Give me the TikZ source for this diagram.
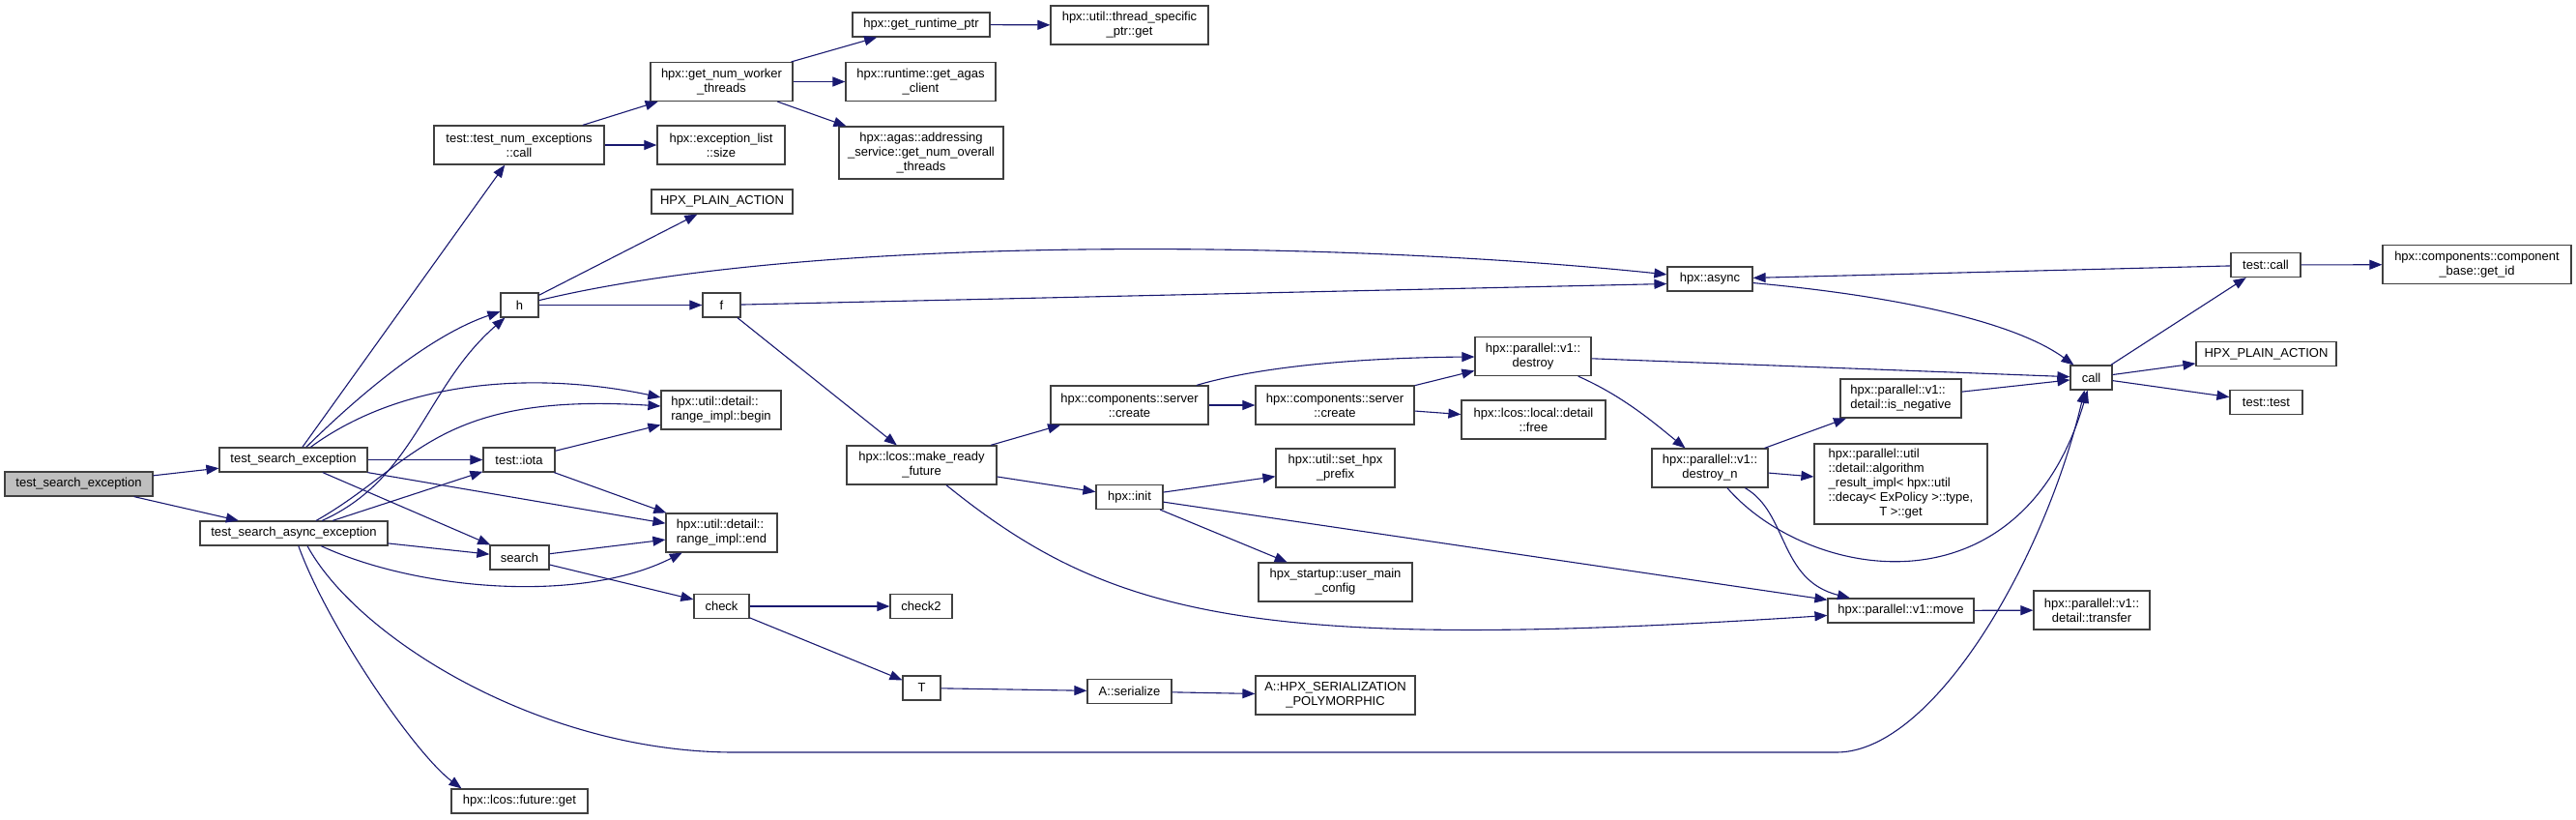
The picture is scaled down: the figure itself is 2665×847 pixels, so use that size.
\documentclass[tikz,border=0pt]{standalone}
\usepackage{fontspec}
\setmainfont{Liberation Sans}
\usepackage{xcolor}
\usetikzlibrary{arrows.meta}
\definecolor{edgeblue}{HTML}{191970}
\definecolor{boxline}{HTML}{404040}
\definecolor{rootgray}{HTML}{BFBFBF}
\tikzset{fn/.style={draw=boxline,line width=1.2pt,fill=white,inner sep=0pt,align=center,font=\fontsize{13}{15}\selectfont},
dep/.style={-{Triangle[length=13pt,width=10pt]},edgeblue,line width=1.1pt}}

\begin{document}
\begin{tikzpicture}[x=1pt,y=-1pt]
\useasboundingbox (0,0) rectangle (2665,847);
% functions
\node[fn,fill=rootgray,minimum width=153pt,minimum height=25pt] (root) at (81.5,500.5) {test\_search\_exception};
\node[fn,minimum width=153pt,minimum height=25pt] (tse) at (303.5,475.5) {test\_search\_exception};
\node[fn,minimum width=194pt,minimum height=25pt] (tsae) at (304,551.5) {test\_search\_async\_exception};
\node[fn,minimum width=176pt,minimum height=40pt] (tnc) at (537,150) {test::test\_num\_exceptions\\::call};
\node[fn,minimum width=132pt,minimum height=40pt] (exls) at (746,150) {hpx::exception\_list\\::size};
\node[fn,minimum width=147pt,minimum height=40pt] (gnwt) at (746.5,84.5) {hpx::get\_num\_worker\\\_threads};
\node[fn,minimum width=142pt,minimum height=25pt] (grp) at (953,25.5) {hpx::get\_runtime\_ptr};
\node[fn,minimum width=163pt,minimum height=40pt] (tsp) at (1168.5,26) {hpx::util::thread\_specific\\\_ptr::get};
\node[fn,minimum width=155pt,minimum height=40pt] (gac) at (952.5,84.5) {hpx::runtime::get\_agas\\\_client};
\node[fn,minimum width=170pt,minimum height=54pt] (addr) at (953,158) {hpx::agas::addressing\\\_service::get\_num\_overall\\\_threads};
\node[fn,minimum width=146pt,minimum height=25pt] (plainA) at (747,208.5) {HPX\_PLAIN\_ACTION};
\node[fn,minimum width=39pt,minimum height=25pt] (h) at (537.5,315.5) {h};
\node[fn,minimum width=39pt,minimum height=25pt] (f) at (746.5,315.5) {f};
\node[fn,align=left,minimum width=124pt,minimum height=40pt] (rbeg) at (746,424) {hpx::util::detail::\\range\_impl::begin};
\node[fn,minimum width=74pt,minimum height=25pt] (iota) at (537,475.5) {test::iota};
\node[fn,align=left,minimum width=115pt,minimum height=40pt] (rend) at (746.5,551) {hpx::util::detail::\\range\_impl::end};
\node[fn,minimum width=61pt,minimum height=25pt] (search) at (537.5,576.5) {search};
\node[fn,minimum width=57pt,minimum height=25pt] (check) at (746.5,627) {check};
\node[fn,minimum width=64pt,minimum height=25pt] (check2) at (953,627) {check2};
\node[fn,minimum width=39pt,minimum height=25pt] (T) at (953.5,711.5) {T};
\node[fn,minimum width=141pt,minimum height=25pt] (fget) at (537.5,828.5) {hpx::lcos::future::get};
\node[fn,minimum width=155pt,minimum height=40pt] (mrf) at (953.5,481) {hpx::lcos::make\_ready\\\_future};
\node[fn,minimum width=163pt,minimum height=40pt] (cre1) at (1168.5,419) {hpx::components::server\\::create};
\node[fn,minimum width=164pt,minimum height=40pt] (cre2) at (1381,419) {hpx::components::server\\::create};
\node[fn,minimum width=120pt,minimum height=40pt] (destroy) at (1586,368.5) {hpx::parallel::v1::\\destroy};
\node[fn,minimum width=149pt,minimum height=40pt] (free) at (1586.5,434) {hpx::lcos::local::detail\\::free};
\node[fn,minimum width=123pt,minimum height=40pt] (prefix) at (1381.5,484) {hpx::util::set\_hpx\\\_prefix};
\node[fn,minimum width=69pt,minimum height=25pt] (init) at (1168.5,514) {hpx::init};
\node[fn,minimum width=159pt,minimum height=40pt] (umc) at (1381.5,602) {hpx\_startup::user\_main\\\_config};
\node[fn,minimum width=87pt,minimum height=25pt] (ser) at (1168.5,715) {A::serialize};
\node[fn,minimum width=165pt,minimum height=40pt] (poly) at (1381.5,719) {A::HPX\_SERIALIZATION\\\_POLYMORPHIC};
\node[fn,minimum width=88pt,minimum height=25pt] (async) at (1769,288.5) {hpx::async};
\node[fn,minimum width=120pt,minimum height=40pt] (destn) at (1769,484) {hpx::parallel::v1::\\destroy\_n};
\node[fn,align=left,minimum width=125pt,minimum height=40pt] (isneg) at (1966.5,412) {hpx::parallel::v1::\\detail::is\_negative};
\node[fn,minimum width=179pt,minimum height=83pt] (algo) at (1966.5,500.5) {\begin{tabular}{@{}l@{}}hpx::parallel::util\\::detail::algorithm\\\_result\_impl< hpx::util\\::decay< ExPolicy >::type,\\\multicolumn{1}{@{}c@{}}{T >::get}\end{tabular}};
\node[fn,minimum width=43pt,minimum height=25pt] (call) at (2163.5,390.5) {call};
\node[fn,minimum width=151pt,minimum height=25pt] (move) at (1966.5,631.5) {hpx::parallel::v1::move};
\node[fn,minimum width=120pt,minimum height=40pt] (transfer) at (2164,631) {hpx::parallel::v1::\\detail::transfer};
\node[fn,minimum width=72pt,minimum height=25pt] (tcall) at (2344,274) {test::call};
\node[fn,minimum width=195pt,minimum height=40pt] (getid) at (2562.5,273.5) {hpx::components::component\\\_base::get\_id};
\node[fn,minimum width=145pt,minimum height=25pt] (plainB) at (2344.5,366) {HPX\_PLAIN\_ACTION};
\node[fn,minimum width=75pt,minimum height=25pt] (ttest) at (2344.5,416) {test::test};
% calls
\draw[dep] (root) -- (tse);
\draw[dep] (root) -- (tsae);
\draw[dep] (tse) -- (tnc);
\draw[dep] (tse) .. controls (380,400) and (450,345) .. (h);
\draw[dep] (tse) .. controls (420,390) and (560,385) .. (rbeg);
\draw[dep] (tse) -- (iota);
\draw[dep] (tse) -- (rend);
\draw[dep] (tse) -- (search);
\draw[dep] (tsae) .. controls (430,495) and (440,400) .. (h);
\draw[dep] (tsae) .. controls (430,480) and (450,405) .. (rbeg);
\draw[dep] (tsae) -- (iota);
\draw[dep] (tsae) -- (search);
\draw[dep] (tsae) .. controls (430,610) and (600,625) .. (rend);
\draw[dep] (tsae) .. controls (340,650) and (430,780) .. ([xshift=-60pt]fget.north);
\draw[dep] ([xshift=14pt]tsae.south) .. controls (370,660) and (560,778) .. (760,778) -- (1900,778) .. controls (2000,778) and (2115,580) .. ([xshift=-7pt]call.south);
\draw[dep] (tnc) -- (gnwt);
\draw[dep] (tnc) -- (exls);
\draw[dep] (gnwt) -- (grp);
\draw[dep] (gnwt) -- (gac);
\draw[dep] (gnwt) -- (addr);
\draw[dep] (grp) -- (tsp);
\draw[dep] (h) -- (plainA);
\draw[dep] (h) -- (f);
\draw[dep] (h) .. controls (850,240) and (1400,250) .. (async);
\draw[dep] (f) -- ([yshift=-5pt]async.west);
\draw[dep] (f) -- (mrf);
\draw[dep] (iota) -- (rbeg);
\draw[dep] (iota) -- (rend);
\draw[dep] (search) -- (rend);
\draw[dep] (search) -- (check);
\draw[dep] (check) -- (check2);
\draw[dep] (check) -- (T);
\draw[dep] (T) -- (ser);
\draw[dep] (ser) -- (poly);
\draw[dep] (mrf) -- (cre1);
\draw[dep] (mrf) -- (init);
\draw[dep] (mrf) .. controls (1150,640) and (1300,675) .. (move);
\draw[dep] (cre1) -- (cre2);
\draw[dep] (cre1) .. controls (1300,380) and (1400,370) .. (destroy);
\draw[dep] (cre2) -- (destroy);
\draw[dep] (cre2) -- (free);
\draw[dep] (destroy) -- (call);
\draw[dep] (destroy) .. controls (1680,410) and (1712,438) .. (destn);
\draw[dep] (init) -- (prefix);
\draw[dep] (init) -- (umc);
\draw[dep] (init) -- (move);
\draw[dep] (async) .. controls (1950,305) and (2080,330) .. (call);
\draw[dep] (destn) -- (isneg);
\draw[dep] (destn) -- (algo);
\draw[dep] (destn) .. controls (1870,600) and (2090,640) .. (call);
\draw[dep] (destn) .. controls (1850,530) and (1840,600) .. (move);
\draw[dep] (isneg) -- (call);
\draw[dep] (move) -- (transfer);
\draw[dep] (call) -- (tcall);
\draw[dep] (call) -- (plainB);
\draw[dep] (call) -- (ttest);
\draw[dep] (tcall) -- (async);
\draw[dep] (tcall) -- (getid);
\end{tikzpicture}
\end{document}
